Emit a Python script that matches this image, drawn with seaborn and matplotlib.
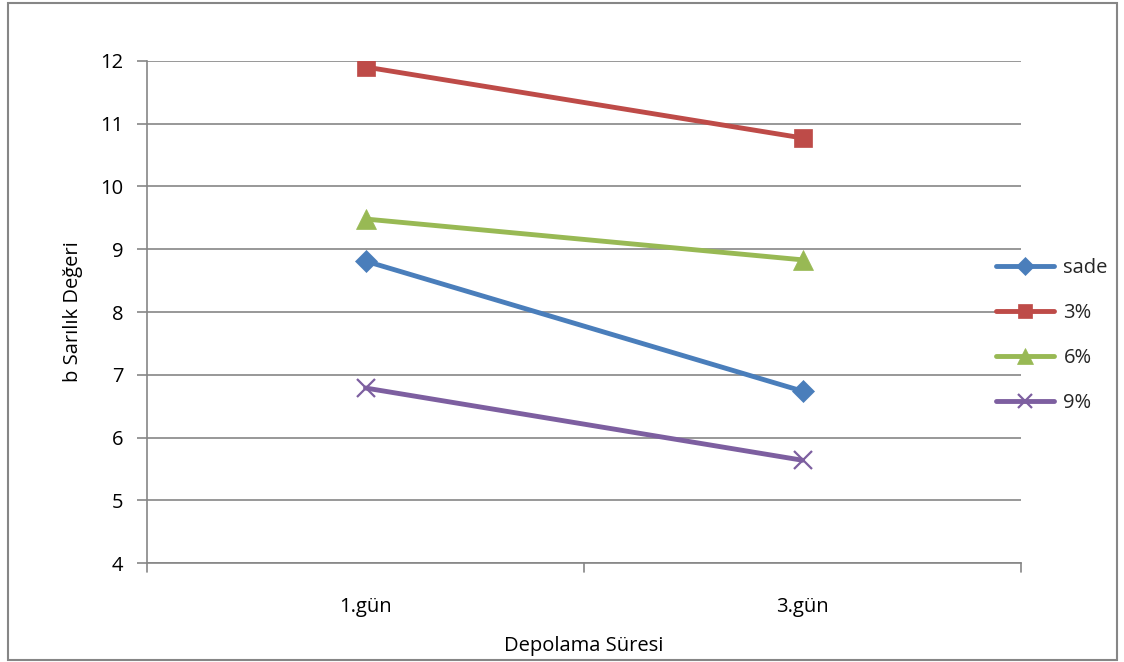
import matplotlib
matplotlib.use("Agg")
import matplotlib.pyplot as plt
from matplotlib.patches import Rectangle
import pandas as pd
import seaborn as sns

# Storage days and yellowness (b) values per group
days = ["1.gün", "3.gün"]
groups = ["sade", "3%", "6%", "9%"]
sade = [8.81, 6.74]
pct3 = [11.90, 10.77]
pct6 = [9.48, 8.83]
pct9 = [6.79, 5.64]

colors = ["#4A7EBB", "#BE4B48", "#98B954", "#7D5FA0"]
markers = ["D", "s", "^", "x"]
msizes = [11, 13, 14, 13]

frames = []
for name, vals in zip(groups, [sade, pct3, pct6, pct9]):
    frames.append(pd.DataFrame({"Gün": days, "b": vals, "Grup": name}))
df = pd.concat(frames, ignore_index=True)

sns.set_theme(style="white")
plt.rcParams["font.family"] = ["Open Sans", "DejaVu Sans"]

fig = plt.figure(figsize=(11.24, 6.62), dpi=100)
ax = fig.add_axes([0.1308, 0.1491, 0.7776, 0.7592])

for name, c, m, ms in zip(groups, colors, markers, msizes):
    sub = df[df["Grup"] == name]
    sns.lineplot(data=sub, x="Gün", y="b", ax=ax, color=c, linewidth=3.5,
                 marker=m, markersize=ms, markeredgecolor=c,
                 markeredgewidth=1.6 if m == "x" else 0.5, label=name,
                 sort=False)

grid_c = "#868686"
fs = 14.5
ax.set_ylim(4, 12)
ax.set_yticks(range(4, 13))
ax.set_xlim(-0.5, 1.5)
ax.set_xticks([0, 1])
ax.set_xticklabels(days)
ax.yaxis.grid(True, color=grid_c, linewidth=1.2)
ax.set_axisbelow(True)

for s in ["top", "right"]:
    ax.spines[s].set_visible(False)
for s in ["left", "bottom"]:
    ax.spines[s].set_color(grid_c)
    ax.spines[s].set_linewidth(1.2)

ax.tick_params(axis="y", left=True, length=7, width=1.2, color=grid_c,
               labelsize=fs, pad=10, labelcolor="black")
ax.tick_params(axis="x", bottom=False, labelsize=fs, pad=18, labelcolor="black")
# category boundary ticks on the x axis
for xb in [-0.5, 0.5, 1.5]:
    ax.plot([xb, xb], [0, -0.018], transform=ax.get_xaxis_transform(),
            color=grid_c, linewidth=1.2, clip_on=False)

ax.set_xlabel("Depolama Süresi", fontsize=fs, labelpad=14, color="black")
ax.set_ylabel("b Sarılık Değeri", fontsize=fs, labelpad=12, color="black")

handles, labels = ax.get_legend_handles_labels()
ax.legend(handles, labels, loc="center left", bbox_to_anchor=(0.870, 0.493),
          bbox_transform=fig.transFigure, frameon=False, fontsize=fs,
          handlelength=2.9, labelspacing=1.25, handletextpad=0.45,
          markerscale=0.8)

fig.patches.append(Rectangle((0.007, 0.003), 0.987, 0.992, transform=fig.transFigure,
                             fill=False, edgecolor=grid_c, linewidth=1.5))

fig.savefig("out.png", dpi=100)
